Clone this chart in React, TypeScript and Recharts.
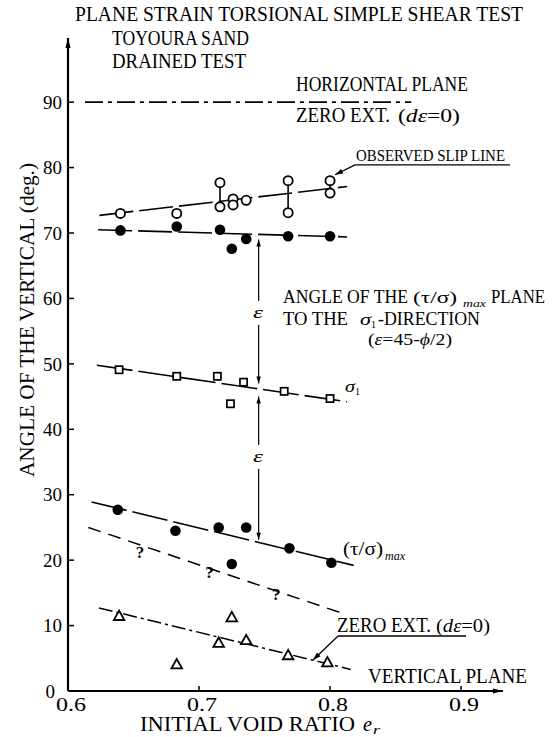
import React from 'react';
import { ComposedChart, Line, Scatter, XAxis, YAxis, ReferenceLine } from 'recharts';

const FONT = '"Liberation Serif", "DejaVu Serif", serif';

// ---- axes ----
const xTicks = [0.6, 0.7, 0.8, 0.9];
const xTickLabels = ['0.6', '0.7', '0.8', '0.9'];
const yTicks = [0, 10, 20, 30, 40, 50, 60, 70, 80, 90];
const xDomain = [0.6, 0.932];
const yDomain = [0, 99.5];

// ---- observations (x = initial void ratio, y = angle of the vertical, deg) ----
const slipLinePts = [
  { x: 0.640, y: 73.0 }, { x: 0.683, y: 73.0 }, { x: 0.716, y: 77.7 }, { x: 0.716, y: 74.0 },
  { x: 0.726, y: 75.2 }, { x: 0.726, y: 74.3 }, { x: 0.736, y: 75.0 }, { x: 0.768, y: 78.0 },
  { x: 0.768, y: 73.1 }, { x: 0.800, y: 78.0 }, { x: 0.800, y: 76.1 },
];
const zeroExtUpperPts = [
  { x: 0.640, y: 70.4 }, { x: 0.683, y: 71.0 }, { x: 0.716, y: 70.5 }, { x: 0.725, y: 67.6 },
  { x: 0.736, y: 69.1 }, { x: 0.768, y: 69.5 }, { x: 0.800, y: 69.5 },
];
const sigma1Pts = [
  { x: 0.639, y: 49.1 }, { x: 0.683, y: 48.1 }, { x: 0.714, y: 48.1 }, { x: 0.724, y: 43.9 },
  { x: 0.734, y: 47.2 }, { x: 0.765, y: 45.8 }, { x: 0.800, y: 44.7 },
];
const tauMaxPts = [
  { x: 0.638, y: 27.7 }, { x: 0.682, y: 24.5 }, { x: 0.715, y: 25.0 }, { x: 0.725, y: 19.4 },
  { x: 0.736, y: 25.0 }, { x: 0.769, y: 21.8 }, { x: 0.801, y: 19.6 },
];
const zeroExtLowerPts = [
  { x: 0.639, y: 11.4 }, { x: 0.683, y: 4.0 }, { x: 0.715, y: 7.3 }, { x: 0.725, y: 11.2 },
  { x: 0.736, y: 7.7 }, { x: 0.768, y: 5.4 }, { x: 0.798, y: 4.3 },
];
const questionPts = [{ x: 0.655, y: 21.3 }, { x: 0.708, y: 18.2 }, { x: 0.759, y: 14.8 }];

// ---- fitted / reference lines ----
const horizontalPlane = [{ x: 0.613, y: 90 }, { x: 0.862, y: 90 }];
const slipFit = [{ x: 0.624, y: 72.7 }, { x: 0.813, y: 77.1 }];
const zeroExtUpperFit = [{ x: 0.623, y: 70.5 }, { x: 0.813, y: 69.4 }];
const sigma1Fit = [{ x: 0.622, y: 49.8 }, { x: 0.813, y: 44.2 }];
const tauMaxFit = [{ x: 0.618, y: 28.9 }, { x: 0.818, y: 19.2 }];
const questionFit = [{ x: 0.6155, y: 25.0 }, { x: 0.809, y: 11.9 }];
const zeroExtLowerFit = [{ x: 0.6236, y: 12.7 }, { x: 0.8157, y: 3.3 }];

// paired slip-line observations joined by a vertical bar: [x, yTop, yBottom]
const slipPairs = [[0.716, 77.7, 74.0], [0.768, 78.0, 73.1], [0.800, 78.0, 76.1]];

// epsilon dimension arrows: [x, yTop, yBottom]
const epsArrows = [[0.7455, 69.0, 47.0], [0.7455, 45.0, 23.1]];

// ---- shapes ----
const OpenCircle = (p: any) => (
  <circle cx={p.cx} cy={p.cy} r={4.6} fill="#fff" stroke="#000" strokeWidth={1.8} />
);
const FilledCircle = (p: any) => <circle cx={p.cx} cy={p.cy} r={5.3} fill="#000" />;
const OpenSquare = (p: any) => (
  <rect x={p.cx - 3.6} y={p.cy - 3.6} width={7.2} height={7.2} fill="#fff" stroke="#000" strokeWidth={1.7} />
);
const OpenTriangle = (p: any) => (
  <polygon
    points={`${p.cx},${p.cy - 5.8} ${p.cx - 5.3},${p.cy + 3.6} ${p.cx + 5.3},${p.cy + 3.6}`}
    fill="#fff" stroke="#000" strokeWidth={1.8} strokeLinejoin="miter"
  />
);
const QMark = (p: any) => (
  <text x={p.cx} y={p.cy} dy="0.35em" textAnchor="middle" fontSize={17} fontWeight="bold" fontFamily={FONT}>?</text>
);

const headPts = (tx: number, ty: number, ux: number, uy: number, hl: number, hw: number) => {
  const bx = tx - ux * hl;
  const by = ty - uy * hl;
  return `${tx},${ty} ${bx - uy * hw},${by + ux * hw} ${bx + uy * hw},${by - ux * hw}`;
};
const arrowShape = (startHead: boolean, endHead: boolean, sw = 1.2, hl = 8, hw = 2.6) => (p: any) => {
  const x1 = +p.x1, y1 = +p.y1, x2 = +p.x2, y2 = +p.y2;
  const dx = x2 - x1, dy = y2 - y1;
  const L = Math.hypot(dx, dy) || 1;
  const ux = dx / L, uy = dy / L;
  return (
    <g>
      <line x1={x1} y1={y1} x2={x2} y2={y2} stroke="#000" strokeWidth={sw} />
      {endHead && <polygon points={headPts(x2, y2, ux, uy, hl, hw)} fill="#000" />}
      {startHead && <polygon points={headPts(x1, y1, -ux, -uy, hl, hw)} fill="#000" />}
    </g>
  );
};

const YTick = (p: any) => {
  const v = p.payload.value;
  const dx = v === 0 ? -7 : 0;
  return (
    <text x={p.x + dx} y={p.y} dy="0.35em" textAnchor="end" fontSize={19} fontFamily={FONT} fill="#000">
      {v}
    </text>
  );
};
const XTick = (p: any) => {
  const i = xTicks.indexOf(p.payload.value);
  return (
    <text x={p.x + 3} y={p.y} dy="0.35em" textAnchor="middle" fontSize={19} fontFamily={FONT} fill="#000"
      textLength={30} lengthAdjust="spacingAndGlyphs">
      {xTickLabels[i]}
    </text>
  );
};

const T = ({ x, y, w, size = 20, italic = false, children }: any) => (
  <text x={x} y={y} fontSize={size} fontStyle={italic ? 'italic' : 'normal'} fontFamily={FONT} fill="#000"
    textLength={w} lengthAdjust="spacingAndGlyphs">
    {children}
  </text>
);

export default function App() {
  return (
    <div style={{ position: 'absolute', left: 0, top: 0, width: 559, height: 737, background: '#fff' }}>
      <div style={{ position: 'absolute', left: 0, top: 0 }}>
        <ComposedChart width={559} height={737} margin={{ top: 40, right: 56, bottom: 0, left: 0 }}>
          <XAxis type="number" dataKey="x" domain={xDomain} ticks={xTicks} allowDataOverflow
            axisLine={false} tickLine={{ stroke: '#000', strokeWidth: 1.5 }} tickSize={-5} tickMargin={18}
            height={46} tick={<XTick />} interval={0} />
          <YAxis type="number" dataKey="y" domain={yDomain} ticks={yTicks} allowDataOverflow
            axisLine={false} tickLine={{ stroke: '#000', strokeWidth: 1.5 }} tickSize={-6} tickMargin={12}
            width={68} tick={<YTick />} interval={0} />

          {/* axes with arrowheads */}
          <ReferenceLine segment={[{ x: 0.6, y: 0 }, { x: 0.6, y: 99.8 }]} ifOverflow="visible"
            shape={arrowShape(false, true, 2.2, 10, 2.6)} />
          <ReferenceLine segment={[{ x: 0.6, y: 0 }, { x: 0.932, y: 0 }]} ifOverflow="visible"
            shape={arrowShape(false, true, 2.2, 10, 2.6)} />

          {/* fitted lines */}
          <Line data={horizontalPlane} dataKey="y" stroke="#000" strokeWidth={1.8} strokeDasharray="18 5 4 5" dot={false} isAnimationActive={false} />
          <Line data={slipFit} dataKey="y" stroke="#000" strokeWidth={1.6} strokeDasharray="34 6" dot={false} isAnimationActive={false} />
          <Line data={zeroExtUpperFit} dataKey="y" stroke="#000" strokeWidth={1.6} strokeDasharray="34 6" dot={false} isAnimationActive={false} />
          <Line data={sigma1Fit} dataKey="y" stroke="#000" strokeWidth={1.6} strokeDasharray="36 6" dot={false} isAnimationActive={false} />
          <Line data={tauMaxFit} dataKey="y" stroke="#000" strokeWidth={1.6} strokeDasharray="36 6" dot={false} isAnimationActive={false} />
          <Line data={questionFit} dataKey="y" stroke="#000" strokeWidth={1.5} strokeDasharray="13 8" dot={false} isAnimationActive={false} />
          <Line data={zeroExtLowerFit} dataKey="y" stroke="#000" strokeWidth={1.5} strokeDasharray="14 4 3 4" dot={false} isAnimationActive={false} />

          {/* vertical bars joining paired observations */}
          {slipPairs.map((s, i) => (
            <ReferenceLine key={'pair' + i} segment={[{ x: s[0], y: s[1] }, { x: s[0], y: s[2] }]} ifOverflow="visible"
              stroke="#000" strokeWidth={1.6} />
          ))}

          {/* epsilon arrows */}
          {epsArrows.map((s, i) => (
            <ReferenceLine key={'eps' + i} segment={[{ x: s[0], y: s[1] }, { x: s[0], y: s[2] }]} ifOverflow="visible"
              shape={arrowShape(true, true, 1.2, 7, 2.2)} />
          ))}

          {/* leader lines */}
          <ReferenceLine segment={[{ x: 0.8191, y: 80.42 }, { x: 0.9374, y: 80.42 }]} ifOverflow="visible" stroke="#000" strokeWidth={1.3} />
          <ReferenceLine segment={[{ x: 0.8191, y: 80.42 }, { x: 0.8038, y: 78.9 }]} ifOverflow="visible"
            shape={arrowShape(false, true, 1.3, 8, 2.6)} />
          <ReferenceLine segment={[{ x: 0.8061, y: 8.41 }, { x: 0.9038, y: 8.41 }]} ifOverflow="visible" stroke="#000" strokeWidth={1.3} />
          <ReferenceLine segment={[{ x: 0.8061, y: 8.41 }, { x: 0.787, y: 4.74 }]} ifOverflow="visible"
            shape={arrowShape(false, true, 1.3, 8, 2.6)} />

          {/* markers */}
          <Scatter data={slipLinePts} dataKey="y" shape={OpenCircle} isAnimationActive={false} />
          <Scatter data={zeroExtUpperPts} dataKey="y" shape={FilledCircle} isAnimationActive={false} />
          <Scatter data={sigma1Pts} dataKey="y" shape={OpenSquare} isAnimationActive={false} />
          <Scatter data={tauMaxPts} dataKey="y" shape={FilledCircle} isAnimationActive={false} />
          <Scatter data={zeroExtLowerPts} dataKey="y" shape={OpenTriangle} isAnimationActive={false} />
          <Scatter data={questionPts} dataKey="y" shape={QMark} isAnimationActive={false} />
        </ComposedChart>
      </div>

      <svg width={559} height={737} style={{ position: 'absolute', left: 0, top: 0, pointerEvents: 'none' }}>
        <T x={75} y={21} w={448}>PLANE STRAIN TORSIONAL SIMPLE SHEAR TEST</T>
        <T x={112} y={45} w={137}>TOYOURA SAND</T>
        <T x={112} y={68} w={134}>DRAINED TEST</T>
        <T x={296} y={91} w={172}>HORIZONTAL PLANE</T>
        <T x={296} y={122} w={94}>ZERO EXT.</T>
        <text x={398} y={122} fontSize={18} fontFamily={FONT} textLength={62} lengthAdjust="spacingAndGlyphs">
          (<tspan fontStyle="italic">dε</tspan>=0)
        </text>
        <T x={356} y={161} w={149} size={17}>OBSERVED SLIP LINE</T>

        <T x={283} y={303} w={125} size={18}>ANGLE OF THE</T>
        <T x={413} y={303} w={44} size={17}>(τ/σ)</T>
        <T x={463} y={307} w={23} size={11} italic>max</T>
        <T x={491} y={303} w={54} size={18}>PLANE</T>
        <T x={283} y={325} w={65} size={18}>TO THE</T>
        <T x={360} y={325} w={11} size={17} italic>σ</T>
        <T x={371} y={328} w={5} size={10}>1</T>
        <T x={378} y={325} w={102} size={18}>-DIRECTION</T>
        <text x={368} y={345} fontSize={17} fontFamily={FONT} textLength={84} lengthAdjust="spacingAndGlyphs">
          (<tspan fontStyle="italic">ε</tspan>=45-<tspan fontStyle="italic">ϕ</tspan>/2)
        </text>

        <T x={345} y={392} w={10} size={17} italic>σ</T>
        <T x={355} y={395} w={5} size={10}>1</T>

        {/* epsilon labels sit in gaps of the dimension arrows */}
        <rect x={252} y={301} width={12} height={24} fill="#fff" />
        <T x={253} y={318} w={10} size={17} italic>ε</T>
        <rect x={252} y={445} width={12} height={24} fill="#fff" />
        <T x={253} y={462} w={10} size={17} italic>ε</T>

        <T x={343} y={555} w={40} size={18}>(τ/σ)</T>
        <T x={385} y={560} w={20} size={12} italic>max</T>

        <T x={337} y={632} w={94}>ZERO EXT.</T>
        <text x={436} y={632} fontSize={18} fontFamily={FONT} textLength={54} lengthAdjust="spacingAndGlyphs">
          (<tspan fontStyle="italic">dε</tspan>=0)
        </text>
        <T x={368} y={683} w={159}>VERTICAL PLANE</T>

        <T x={140} y={731} w={215}>INITIAL VOID RATIO</T>
        <T x={363} y={731} w={9} italic>e</T>
        <T x={373} y={734} w={7} size={12} italic>r</T>

        <g transform="translate(34, 320) rotate(-90)">
          <text x={-157} y={0} fontSize={20} fontFamily={FONT} fill="#000" textLength={314} lengthAdjust="spacingAndGlyphs">
            ANGLE OF THE VERTICAL (deg.)
          </text>
        </g>
      </svg>
    </div>
  );
}
